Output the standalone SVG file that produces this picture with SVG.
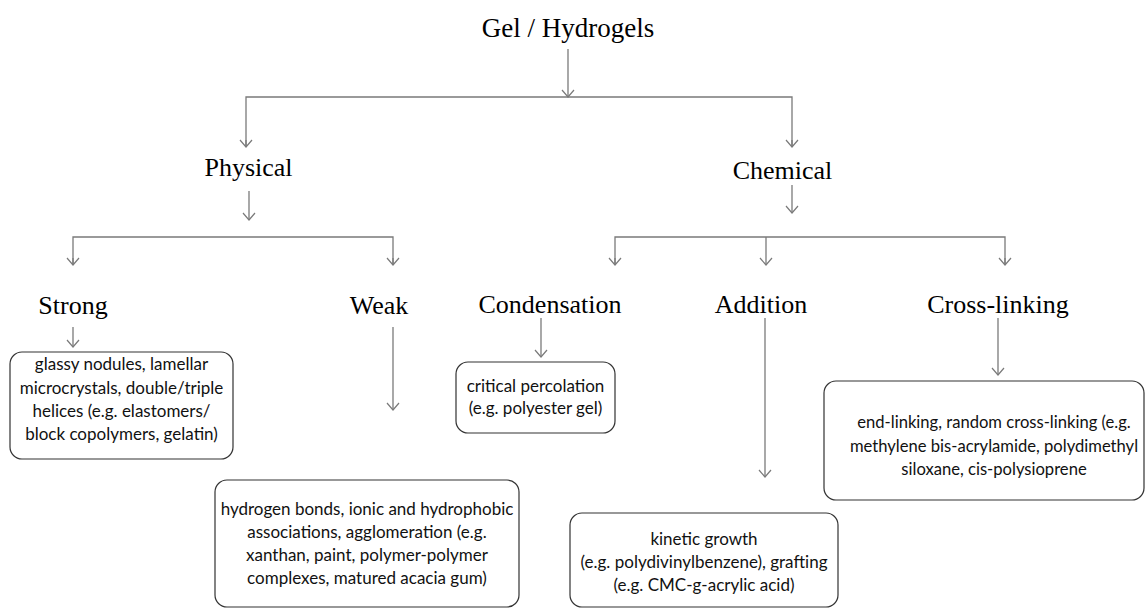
<svg xmlns="http://www.w3.org/2000/svg" width="1146" height="610" viewBox="0 0 1146 610">
<defs>
<marker id="arr" markerWidth="10" markerHeight="14" refX="8" refY="7" orient="auto" markerUnits="userSpaceOnUse" viewBox="0 0 10 14">
<path d="M1,1 L8,7 L1,13" fill="none" stroke="#7a7a7a" stroke-width="1.2"/>
</marker>
<style>
.t{font-family:"Liberation Serif","Times New Roman",serif;font-size:26px;fill:#000;text-anchor:middle}
.b{font-family:Lato,"Liberation Sans",sans-serif;font-size:17px;fill:#111;text-anchor:middle}
.box{fill:#fff;stroke:#333;stroke-width:1.2}
.c{fill:none;stroke:#7a7a7a;stroke-width:1.3}
</style>
</defs>
<rect width="1146" height="610" fill="#fff"/>
<g id="connectors">
<path class="c" d="M568,49 V97" marker-end="url(#arr)"/>
<path class="c" d="M246,147 V97 H792 V147"/>
<path class="c" d="M246,140 V147" marker-end="url(#arr)"/>
<path class="c" d="M792,140 V147" marker-end="url(#arr)"/>
<path class="c" d="M249,191 V220" marker-end="url(#arr)"/>
<path class="c" d="M792,185 V213" marker-end="url(#arr)"/>
<path class="c" d="M73,265 V237 H393 V265"/>
<path class="c" d="M73,258 V265" marker-end="url(#arr)"/>
<path class="c" d="M393,258 V265" marker-end="url(#arr)"/>
<path class="c" d="M615,265 V237 H1005 V265"/>
<path class="c" d="M766,237 V265" marker-end="url(#arr)"/>
<path class="c" d="M615,258 V265" marker-end="url(#arr)"/>
<path class="c" d="M1005,258 V265" marker-end="url(#arr)"/>
<path class="c" d="M73,327 V347" marker-end="url(#arr)"/>
<path class="c" d="M393,327 V410" marker-end="url(#arr)"/>
<path class="c" d="M541,318 V357" marker-end="url(#arr)"/>
<path class="c" d="M765,318 V477" marker-end="url(#arr)"/>
<path class="c" d="M998,318 V375" marker-end="url(#arr)"/>
</g>
<g id="root"><text class="t" x="568" y="37" style="font-size:27px">Gel / Hydrogels</text></g>
<g id="physical"><text class="t" x="248.5" y="176">Physical</text></g>
<g id="chemical"><text class="t" x="782.5" y="179">Chemical</text></g>
<g id="strong"><text class="t" x="73" y="314">Strong</text></g>
<g id="weak"><text class="t" x="379" y="314">Weak</text></g>
<g id="condensation"><text class="t" x="550" y="313">Condensation</text></g>
<g id="addition"><text class="t" x="761" y="313">Addition</text></g>
<g id="crosslinking"><text class="t" x="998" y="313">Cross-linking</text></g>
<g id="strong-box">
<rect class="box" x="10" y="352" width="223" height="107" rx="12"/>
<text class="b" x="121.5" y="370">glassy nodules, lamellar</text>
<text class="b" x="121.5" y="394">microcrystals, double/triple</text>
<text class="b" x="121.5" y="417">helices (e.g. elastomers/</text>
<text class="b" x="121.5" y="440">block copolymers, gelatin)</text>
</g>
<g id="weak-box">
<rect class="box" x="215" y="480" width="304" height="127" rx="12"/>
<text class="b" x="367" y="515">hydrogen bonds, ionic and hydrophobic</text>
<text class="b" x="367" y="538">associations, agglomeration (e.g.</text>
<text class="b" x="367" y="561">xanthan, paint, polymer-polymer</text>
<text class="b" x="367" y="584">complexes, matured acacia gum)</text>
</g>
<g id="condensation-box">
<rect class="box" x="456" y="362" width="159" height="71" rx="12"/>
<text class="b" x="535.5" y="392">critical percolation</text>
<text class="b" x="535.5" y="414">(e.g. polyester gel)</text>
</g>
<g id="addition-box">
<rect class="box" x="570" y="513" width="268" height="94" rx="12"/>
<text class="b" x="704" y="545">kinetic growth</text>
<text class="b" x="704" y="568">(e.g. polydivinylbenzene), grafting</text>
<text class="b" x="704" y="591">(e.g. CMC-g-acrylic acid)</text>
</g>
<g id="crosslinking-box">
<rect class="box" x="824" y="381" width="320" height="119" rx="12"/>
<text class="b" x="994" y="428" style="font-size:16.6px">end-linking, random cross-linking (e.g.</text>
<text class="b" x="994" y="452" style="font-size:16.6px">methylene bis-acrylamide, polydimethyl</text>
<text class="b" x="994" y="475" style="font-size:16.6px">siloxane, cis-polysioprene</text>
</g>
</svg>
